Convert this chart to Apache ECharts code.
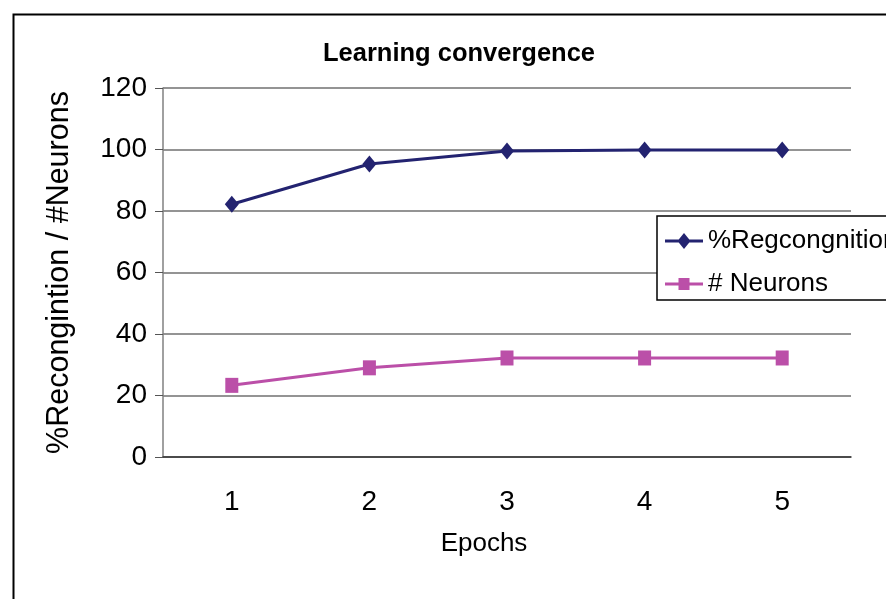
<!DOCTYPE html>
<html>
<head>
<meta charset="utf-8">
<script src="https://cdn.jsdelivr.net/npm/echarts@6/dist/echarts.min.js"></script>
<style>
  html, body { margin: 0; padding: 0; background: #fff; }
  #chart { width: 886px; height: 599px; }
</style>
</head>
<body>
<div id="chart"></div>
<script>
// data
var epochs = ['1', '2', '3', '4', '5'];
var recognition = [82.2, 95.3, 99.5, 99.8, 99.8];
var neurons = [23.3, 29, 32.2, 32.2, 32.2];
var yTicks = [0, 20, 40, 60, 80, 100, 120];

var font = 'Liberation Sans, Arial, sans-serif';
var navy = '#232370', pink = '#bb4fa8';

// legend icons: thick line with the marker in the middle (38x16 box)
var diamondIcon = 'path://M0 6.5H38V9.5H0Z M19 0L25.5 8L19 16L12.5 8Z';
var squareIcon = 'path://M0 6.5H38V9.5H0Z M13.5 2H24.5V14H13.5Z';

var chart = echarts.init(document.getElementById('chart'));
chart.setOption({
    animation: false,
    textStyle: { fontFamily: font },
    title: {
        text: 'Learning convergence',
        left: 454,
        textAlign: 'center',
        top: 36,
        textStyle: { fontSize: 25.5, fontWeight: 'bold', color: '#000', fontFamily: font }
    },
    grid: { left: 163, top: 88, right: 35, bottom: 142 },
    legend: {
        orient: 'vertical',
        left: 657,
        top: 216,
        width: 300,
        padding: [12, 60, 3, 8],
        itemGap: 17,
        itemWidth: 38,
        itemHeight: 16,
        backgroundColor: '#fff',
        borderColor: '#000',
        borderWidth: 1.5,
        textStyle: { fontSize: 26, color: '#000', fontFamily: font },
        data: [
            { name: '%Regcongnition', icon: diamondIcon },
            { name: '# Neurons', icon: squareIcon }
        ]
    },
    xAxis: {
        type: 'category',
        data: epochs,
        boundaryGap: true,
        name: 'Epochs',
        nameLocation: 'middle',
        nameGap: 74,
        nameTextStyle: { fontSize: 26, color: '#000', padding: [0, 46, 0, 0] },
        axisLine: { lineStyle: { color: '#333', width: 1.5 } },
        axisTick: { length: 9, lineStyle: { color: '#333' } },
        axisLabel: { fontSize: 28, color: '#000', margin: 31 }
    },
    yAxis: {
        type: 'value',
        min: yTicks[0],
        max: yTicks[yTicks.length - 1],
        interval: 20,
        name: '%Recongintion / #Neurons',
        nameLocation: 'middle',
        nameRotate: 90,
        nameGap: 88,
        nameTextStyle: { fontSize: 30.5, color: '#000' },
        axisLine: { show: true, lineStyle: { color: '#808080', width: 1.5 } },
        axisTick: { show: true, length: 8, lineStyle: { color: '#555' } },
        axisLabel: { fontSize: 28, color: '#000', margin: 16 },
        splitLine: { lineStyle: { color: '#707070', width: 1.5 } }
    },
    series: [{
        name: '%Regcongnition',
        type: 'line',
        data: recognition,
        symbol: 'diamond',
        symbolSize: [14, 17],
        color: navy,
        lineStyle: { width: 3 }
    }, {
        name: '# Neurons',
        type: 'line',
        data: neurons,
        symbol: 'rect',
        symbolSize: [13, 15],
        color: pink,
        lineStyle: { width: 3 }
    }],
    graphic: [{
        type: 'rect',
        left: 11,
        top: 12,
        shape: { width: 900, height: 620 },
        style: { fill: 'none', stroke: '#000', lineWidth: 2 },
        silent: true
    }]
});
</script>
</body>
</html>
